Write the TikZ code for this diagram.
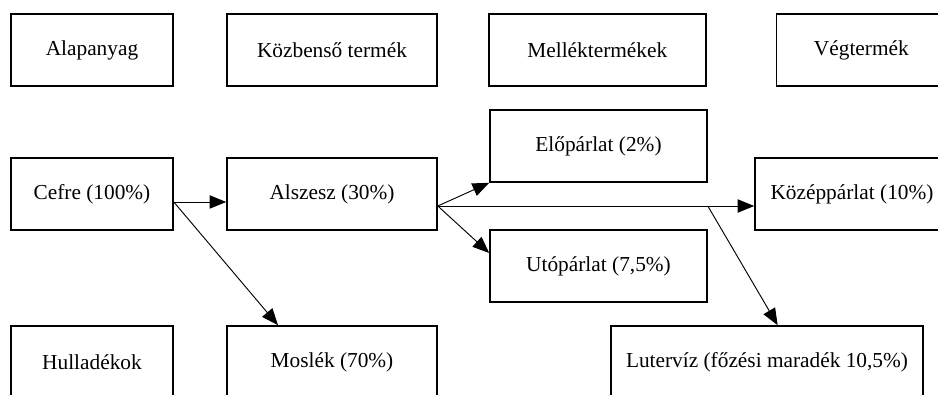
\documentclass[tikz,border=0pt]{standalone}
\usepackage{fontspec}
\setmainfont{Liberation Serif}
\usetikzlibrary{arrows.meta, positioning}
\tikzstyle{block}=[draw,rectangle,line width=1.2pt,inner sep=0pt,minimum height=54pt]
\tikzstyle{every node}=[font=\fontsize{16}{19}\selectfont]
\tikzstyle{narrow}=[minimum width=121.5pt]
\tikzstyle{mid}=[minimum width=157.5pt]
\tikzstyle{wide}=[minimum width=162.75pt]
\begin{document}
\begin{tikzpicture}[x=0.75pt,y=-0.75pt,>={Triangle[length=12.5pt,width=10pt]},line width=0.7pt,node distance=180pt]
  \path[use as bounding box,clip] (0,0) rectangle (938,395);
  \node[block,narrow] (A) at (92,50) {Alapanyag};
  \node[block,mid,right of=A] (K) {Közbenső termék};
  \node[block,wide,right of=K,node distance=199pt] (M) {Melléktermékek};
  \node[block,minimum width=127.5pt,right of=M,node distance=198pt] (V) {Végtermék};
  \node[block,narrow,below of=A,node distance=108pt] (C) {Cefre (100\%)};
  \node[block,mid,right of=C] (Sz) {Alszesz (30\%)};
  \node[block,narrow,below of=C,node distance=126pt] (H) {Hulladékok};
  \node[block,mid,right of=H] (Ms) {Moslék (70\%)};
  \node[block,wide] (E) at (598.5,146) {Előpárlat (2\%)};
  \node[block,wide] (U) at (598.5,266) {Utópárlat (7,5\%)};
  \node[block,minimum width=145.5pt] (Kp) at (852,194) {Középpárlat (10\%)};
  \node[block,minimum width=234pt] (L) at (767,362) {Lutervíz (főzési maradék 10,5\%)};
  \coordinate (c) at ([yshift=-6pt]C.east);
  \coordinate (s) at ([yshift=-9pt]Sz.east);
  \coordinate (b) at (s -| E.east);
  \draw[->] (c) -- (c -| Sz.west);
  \draw[->] (c) -- ([xshift=-40.5pt]Ms.north);
  \draw[->] (s) -- (E.south west);
  \draw[->] (s) -- ([yshift=9.75pt]U.west);
  \draw[->] (s) -- (s -| Kp.west);
  \draw[->] (b) -- ([xshift=8pt]L.north);
\end{tikzpicture}
\end{document}
